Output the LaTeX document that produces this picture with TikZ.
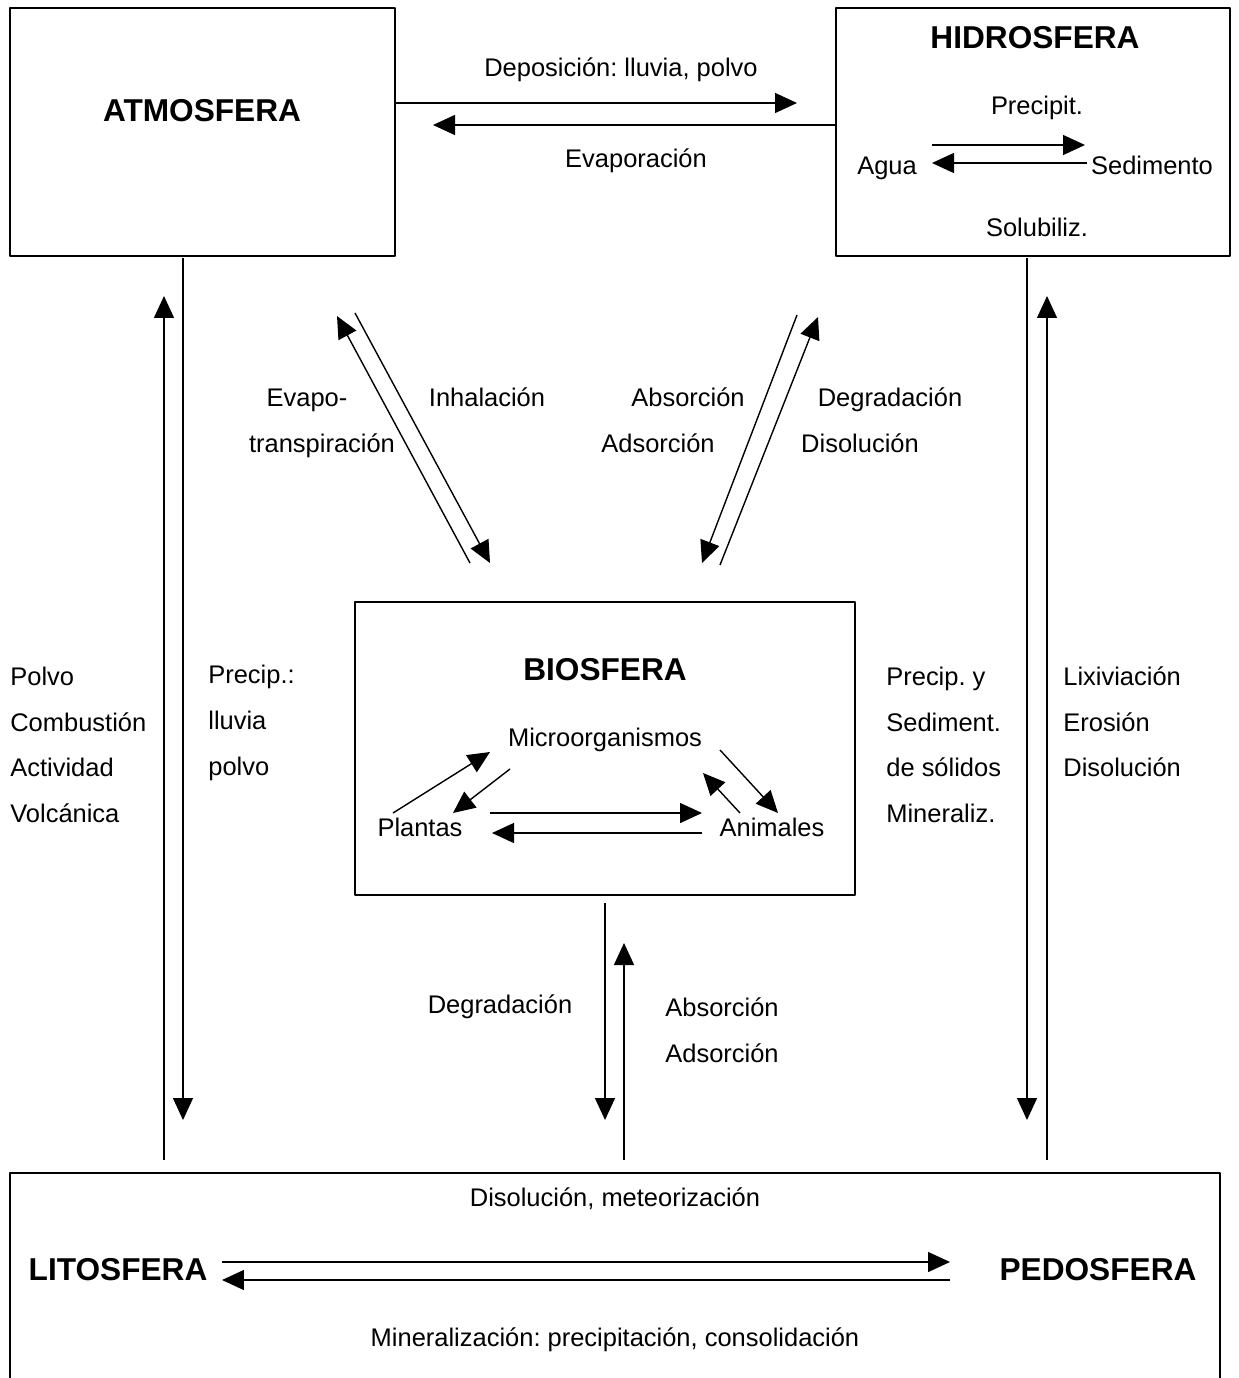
\documentclass[tikz,border=0pt]{standalone}
\usepackage{fontspec}
\setmainfont{Liberation Sans}
\frenchspacing
\usetikzlibrary{arrows.meta}
\tikzset{
	caja/.style={draw,line width=0.8pt,inner sep=0pt},
	flecha/.style={-{Triangle[length=0.44cm,width=0.4cm]},line width=0.8pt},
	titulo/.style={font=\fontsize{18}{22}\selectfont\bfseries,inner sep=0pt},
	texto/.style={font=\fontsize{14.5}{26}\selectfont,inner sep=0pt},
	linea/.style={texto,text height=0.72em,text depth=0.22em}
}
\begin{document}
\begin{tikzpicture}[x=0.02cm,y=-0.02cm,line join=round]
	\useasboundingbox (0,0) rectangle (1238,1378);
	%Cajas
	\node[caja,minimum width=7.7cm,minimum height=4.96cm] (atm) at (202.5,132) {};
	\node[caja,minimum width=7.88cm,minimum height=4.96cm] (hid) at (1033,132) {};
	\node[caja,minimum width=10cm,minimum height=5.86cm] (bio) at (605,748.5) {};
	\node[caja,minimum width=24.2cm,minimum height=4.6cm] (lit) at (615,1288) {};
	%Titulos
	\node[titulo] (tatm) at (202,111) {ATMOSFERA};
	\node[titulo] (thid) at (1035,38) {HIDROSFERA};
	\node[titulo] (tbio) at (605,670) {BIOSFERA};
	\node[titulo] (tlit) at (118,1270) {LITOSFERA};
	\node[titulo] (tped) at (1098,1270) {PEDOSFERA};
	%Textos
	\node[linea] (dep) at (621,72) {Deposición: lluvia, polvo};
	\node[linea] (eva) at (636,163) {Evaporación};
	\node[linea] (pre) at (1037,110) {Precipit.};
	\node[linea] (agua) at (887,170) {Agua};
	\node[linea] (sed) at (1152,170) {Sedimento};
	\node[linea] (sol) at (1037,232) {Solubiliz.};
	\node[linea] (evt1) at (307,402) {Evapo-};
	\node[linea] (evt2) at (322,448) {transpiración};
	\node[linea] (inh) at (487,402) {Inhalación};
	\node[linea] (abs1) at (688,402) {Absorción};
	\node[linea] (ads1) at (658,448) {Adsorción};
	\node[linea] (deg1) at (890,402) {Degradación};
	\node[linea] (dis1) at (860,448) {Disolución};
	\node[texto,align=left,anchor=west] (polvo) at (10,745) {Polvo\\Combustión\\Actividad\\Volcánica};
	\node[texto,align=left,anchor=west] (prec) at (208,723) {Precip.:\\lluvia\\polvo};
	\node[texto,align=left,anchor=west] (psed) at (886,745) {Precip. y\\Sediment.\\de sólidos\\Mineraliz.};
	\node[texto,align=left,anchor=west] (lix) at (1063,722) {Lixiviación\\Erosión\\Disolución};
	\node[linea] (mic) at (605,742) {Microorganismos};
	\node[linea] (pla) at (420,832) {Plantas};
	\node[linea] (ani) at (772,832) {Animales};
	\node[linea] (deg2) at (500,1009) {Degradación};
	\node[texto,align=center] (abs2) at (722,1030) {Absorción\\Adsorción};
	\node[linea] (dism) at (615,1202) {Disolución, meteorización};
	\node[linea] (mine) at (615,1342) {Mineralización: precipitación, consolidación};
	%Flechas entre atmosfera e hidrosfera
	\coordinate (d1) at (797,103);
	\coordinate (e1) at (433,125);
	\draw[flecha] (atm.east |- d1) -- (d1);
	\draw[flecha] (hid.west |- e1) -- (e1);
	%Resto de flechas
	\foreach \n/\xa/\ya/\xb/\yb in {h1/932/145/1085/145, h2/1087/163/932/163,
		v1/183/258/183/1120, v2/164/1160/164/296, v3/1027/258/1027/1120, v4/1047/1160/1047/296,
		v5/605/903/605/1120, v6/624/1160/624/943,
		g1/470/563/337/316, g2/355/313/490/563, g3/797/315/702/563, g4/720/565/818/317,
		b1/393/813/490/752, b2/510/769/453/813, b3/490/813/702/813, b4/702/833/492/833,
		b5/720/750/778/813, b6/740/813/703/773,
		l1/222/1262/950/1262, l2/950/1280/222/1280}
	{
		\coordinate (\n-a) at (\xa,\ya);
		\coordinate (\n-b) at (\xb,\yb);
		\draw[flecha] (\n-a) -- (\n-b);
	}
\end{tikzpicture}
\end{document}
